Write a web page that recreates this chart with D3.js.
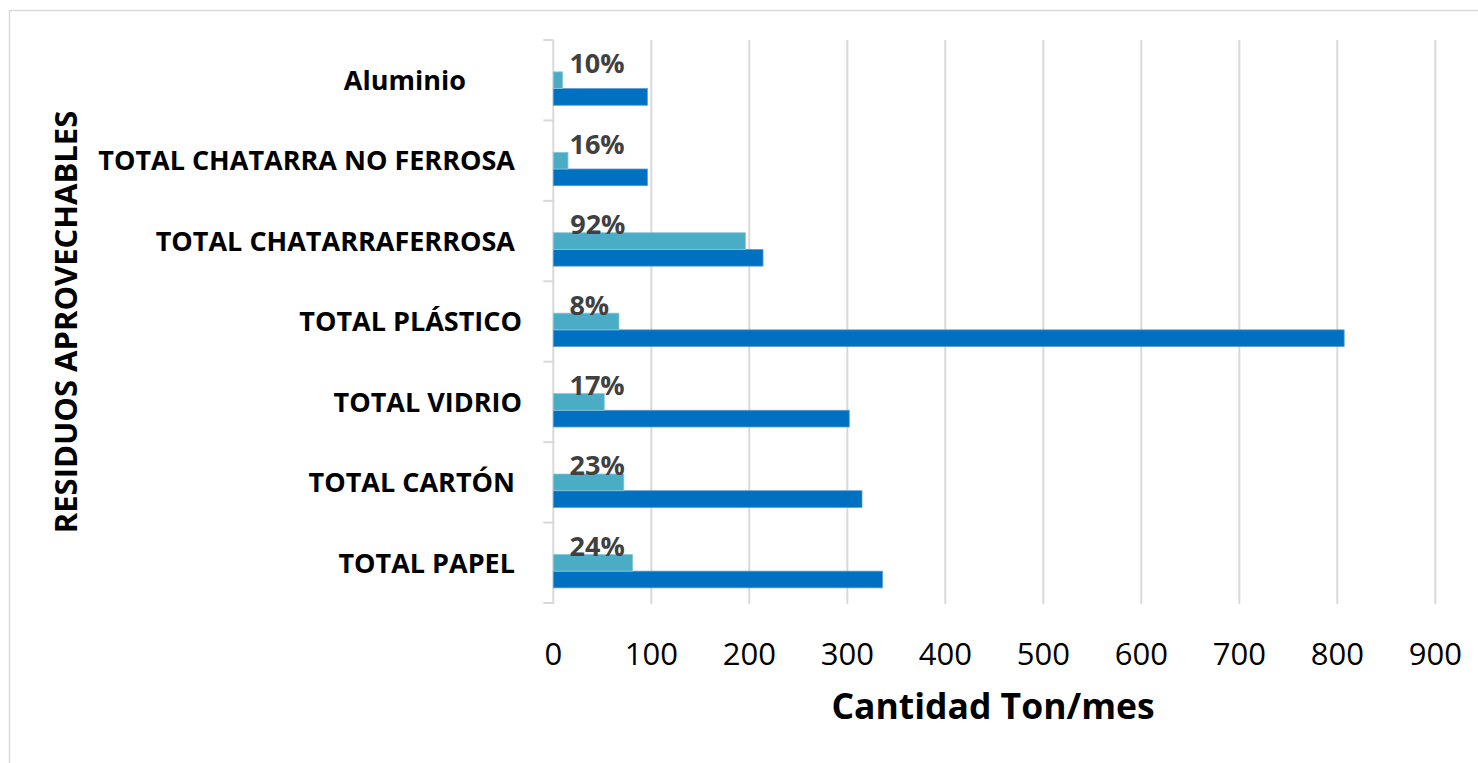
<!DOCTYPE html>
<html>
<head>
<meta charset="utf-8">
<title>Residuos aprovechables</title>
<style>
body { margin: 0; background: #fff; }
svg text { font-family: 'Open Sans', 'DejaVu Sans', sans-serif; }
.cat { white-space: pre; }
</style>
</head>
<body>
<svg width="1478" height="763"></svg>
<script src="https://d3js.org/d3.v7.min.js"></script>
<script>

// categories top to bottom (trailing spaces as in the source labels)
var categories = ["Aluminio        ", "TOTAL CHATARRA NO FERROSA ", "TOTAL CHATARRAFERROSA ",
                  "TOTAL PLÁSTICO", "TOTAL VIDRIO", "TOTAL CARTÓN ", "TOTAL PAPEL "];
var cantidad = [96, 96, 214, 807, 302, 315, 336];
var aprovechado = [9.5, 15, 196, 67, 52, 72, 81];
var porcentaje = [0.10, 0.16, 0.92, 0.08, 0.17, 0.23, 0.24];
var xTicks = [0, 100, 200, 300, 400, 500, 600, 700, 800, 900];

var svg = d3.select("svg");

var margin = {left: 553.3, right: 42, top: 40, bottom: 160};

// chart border
svg.append("rect")
    .attr("x", 9.5).attr("y", 10.5)
    .attr("width", 1480).attr("height", 770)
    .attr("fill", "none").attr("stroke", "#d9d9d9").attr("stroke-width", 1.5);

var x = d3.scaleLinear().domain([0, 900]).range([margin.left, margin.left + 882]);
var y = d3.scaleBand().domain(categories).range([40, 603]);
var sub = d3.scaleBand().domain(["pct", "light", "dark"])
    .range([0, y.bandwidth()]).paddingOuter(0.907).paddingInner(0);

// gridlines
svg.append("g").selectAll("line")
  .data(xTicks.slice(1))
  .enter().append("line")
    .attr("x1", function(d) { return x(d); })
    .attr("x2", function(d) { return x(d); })
    .attr("y1", 40).attr("y2", 604)
    .attr("stroke", "#d9d9d9").attr("stroke-width", 2);

// y axis line and category ticks
svg.append("line")
    .attr("x1", x(0)).attr("x2", x(0)).attr("y1", 40).attr("y2", 604)
    .attr("stroke", "#d9d9d9").attr("stroke-width", 2);
var bounds = categories.map(function(c) { return y(c); }).concat([603]);
svg.append("g").selectAll("line")
  .data(bounds)
  .enter().append("line")
    .attr("x1", x(0) - 10).attr("x2", x(0))
    .attr("y1", function(d) { return d; }).attr("y2", function(d) { return d; })
    .attr("stroke", "#d9d9d9").attr("stroke-width", 2);

// bars
svg.append("g").selectAll("rect")
  .data(cantidad)
  .enter().append("rect")
    .attr("x", x(0))
    .attr("y", function(d, i) { return y(categories[i]) + sub("dark"); })
    .attr("width", function(d) { return x(d) - x(0); })
    .attr("height", sub.bandwidth())
    .attr("fill", "#0070c0")
    .attr("stroke", "#5b9bd5").attr("stroke-width", 0.8);

svg.append("g").selectAll("rect")
  .data(aprovechado)
  .enter().append("rect")
    .attr("x", x(0))
    .attr("y", function(d, i) { return y(categories[i]) + sub("light"); })
    .attr("width", function(d) { return x(d) - x(0); })
    .attr("height", sub.bandwidth())
    .attr("fill", "#4bacc6")
    .attr("stroke", "#8cc7d9").attr("stroke-width", 0.8);

// percentage labels
var fmt = d3.format(".0%");
svg.append("g").selectAll("text")
  .data(porcentaje)
  .enter().append("text")
    .attr("x", function(d) { return x(d) + 16; })
    .attr("y", function(d, i) { return y(categories[i]) + sub("pct") + sub.bandwidth() / 2; })
    .attr("dy", "0.36em")
    .attr("fill", "#404040")
    .attr("font-weight", "bold")
    .attr("font-size", 27)
    .text(function(d) { return fmt(d); });

// category labels
svg.append("g").selectAll("text")
  .data(categories)
  .enter().append("text")
    .attr("class", "cat")
    .attr("x", 522)
    .attr("y", function(d) { return y(d) + y.bandwidth() / 2; })
    .attr("dy", "0.36em")
    .attr("text-anchor", "end")
    .attr("font-weight", "bold")
    .attr("font-size", 27)
    .attr("fill", "#000")
    .text(function(d) { return d; });

// x tick labels
svg.append("g").selectAll("text")
  .data(xTicks)
  .enter().append("text")
    .attr("x", function(d) { return x(d); })
    .attr("y", 665)
    .attr("text-anchor", "middle")
    .attr("font-size", 31)
    .attr("fill", "#000")
    .text(function(d) { return d; });

// axis titles
svg.append("text")
    .attr("x", 993).attr("y", 719)
    .attr("text-anchor", "middle")
    .attr("font-weight", "bold")
    .attr("font-size", 35.5)
    .text("Cantidad Ton/mes");

svg.append("text")
    .attr("transform", "translate(77,322) rotate(-90)")
    .attr("text-anchor", "middle")
    .attr("font-weight", "bold")
    .attr("font-size", 31)
    .text("RESIDUOS APROVECHABLES");

</script>
</body>
</html>
